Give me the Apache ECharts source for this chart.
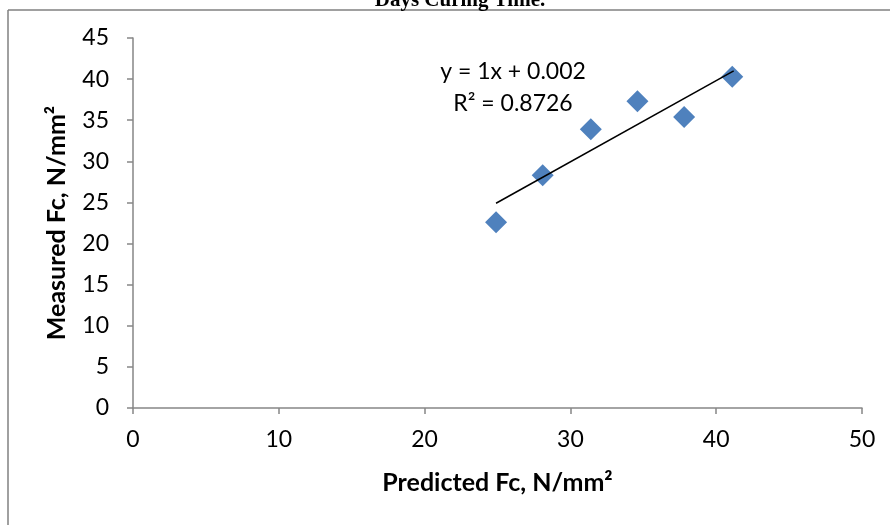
<!DOCTYPE html>
<html>
<head>
<meta charset="utf-8">
<script src="https://cdn.jsdelivr.net/npm/echarts@6/dist/echarts.min.js"></script>
<style>
html,body{margin:0;padding:0;background:#fff;}
#chart{width:890px;height:525px;}
</style>
</head>
<body>
<div id="chart"></div>
<script>
// Data
const predicted = [24.9, 28.1, 31.4, 34.6, 37.8, 41.1];
const measured  = [22.6, 28.3, 33.9, 37.3, 35.4, 40.3];
const trendX = [24.9, 41.2];
const trendY = [24.9, 41.0];
const xTicks = [0, 10, 20, 30, 40, 50];
const yTicks = [0, 5, 10, 15, 20, 25, 30, 35, 40, 45];
const titleText = 'Days Curing Time.';
const eqLine1 = 'y = 1x + 0.002';
const eqLine2 = 'R² = 0.8726';
const xName = 'Predicted Fc, N/mm²';
const yName = 'Measured Fc, N/mm²';

const FONT = 'Lato';
const chart = echarts.init(document.getElementById('chart'), null, {renderer: 'canvas'});
const axisColor = '#868686';

chart.setOption({
  animation: false,
  backgroundColor: '#ffffff',
  grid: {left: 133, right: 28, top: 38, bottom: 117, containLabel: false},
  xAxis: {
    type: 'value',
    min: xTicks[0], max: xTicks[xTicks.length - 1], interval: 10,
    splitLine: {show: false},
    axisLine: {show: true, onZero: false, lineStyle: {color: axisColor, width: 1.5}},
    axisTick: {show: true, inside: false, length: 6, lineStyle: {color: axisColor, width: 1.5}},
    axisLabel: {color: '#000', fontFamily: FONT, fontSize: 23, margin: 20},
    name: xName, nameLocation: 'middle', nameGap: 62,
    nameTextStyle: {color: '#000', fontFamily: FONT, fontWeight: 'bold', fontSize: 25}
  },
  yAxis: {
    type: 'value',
    min: yTicks[0], max: yTicks[yTicks.length - 1], interval: 5,
    splitLine: {show: false},
    axisLine: {show: true, onZero: false, lineStyle: {color: axisColor, width: 1.5}},
    axisTick: {show: true, inside: false, length: 6, lineStyle: {color: axisColor, width: 1.5}},
    axisLabel: {color: '#000', fontFamily: FONT, fontSize: 23, margin: 24},
    name: yName, nameLocation: 'middle', nameGap: 64, nameRotate: 90,
    nameTextStyle: {color: '#000', fontFamily: FONT, fontWeight: 'bold', fontSize: 25}
  },
  series: [
    {
      type: 'scatter',
      symbol: 'diamond',
      symbolSize: 22,
      itemStyle: {color: '#4F81BD', opacity: 1},
      data: predicted.map((x, i) => [x, measured[i]]),
      z: 3
    },
    {
      type: 'line',
      symbol: 'none',
      lineStyle: {color: '#000', width: 1.5},
      data: trendX.map((x, i) => [x, trendY[i]]),
      z: 4
    }
  ],
  graphic: [
    {type: 'line', shape: {x1: 8, y1: 10, x2: 890, y2: 10}, style: {stroke: '#808080', lineWidth: 1.5}},
    {type: 'line', shape: {x1: 8, y1: 10, x2: 8, y2: 525}, style: {stroke: '#808080', lineWidth: 1.5}},
    {type: 'text', x: 460, y: 11, style: {text: titleText, font: 'bold 21px "Liberation Serif"', fill: '#000', align: 'center', verticalAlign: 'bottom'}},
    {type: 'text', x: 513, y: 72, style: {text: eqLine1, font: '23px ' + FONT, fill: '#000', align: 'center', verticalAlign: 'middle'}},
    {type: 'text', x: 513, y: 104, style: {text: eqLine2, font: '23px ' + FONT, fill: '#000', align: 'center', verticalAlign: 'middle'}}
  ]
});
</script>
</body>
</html>
